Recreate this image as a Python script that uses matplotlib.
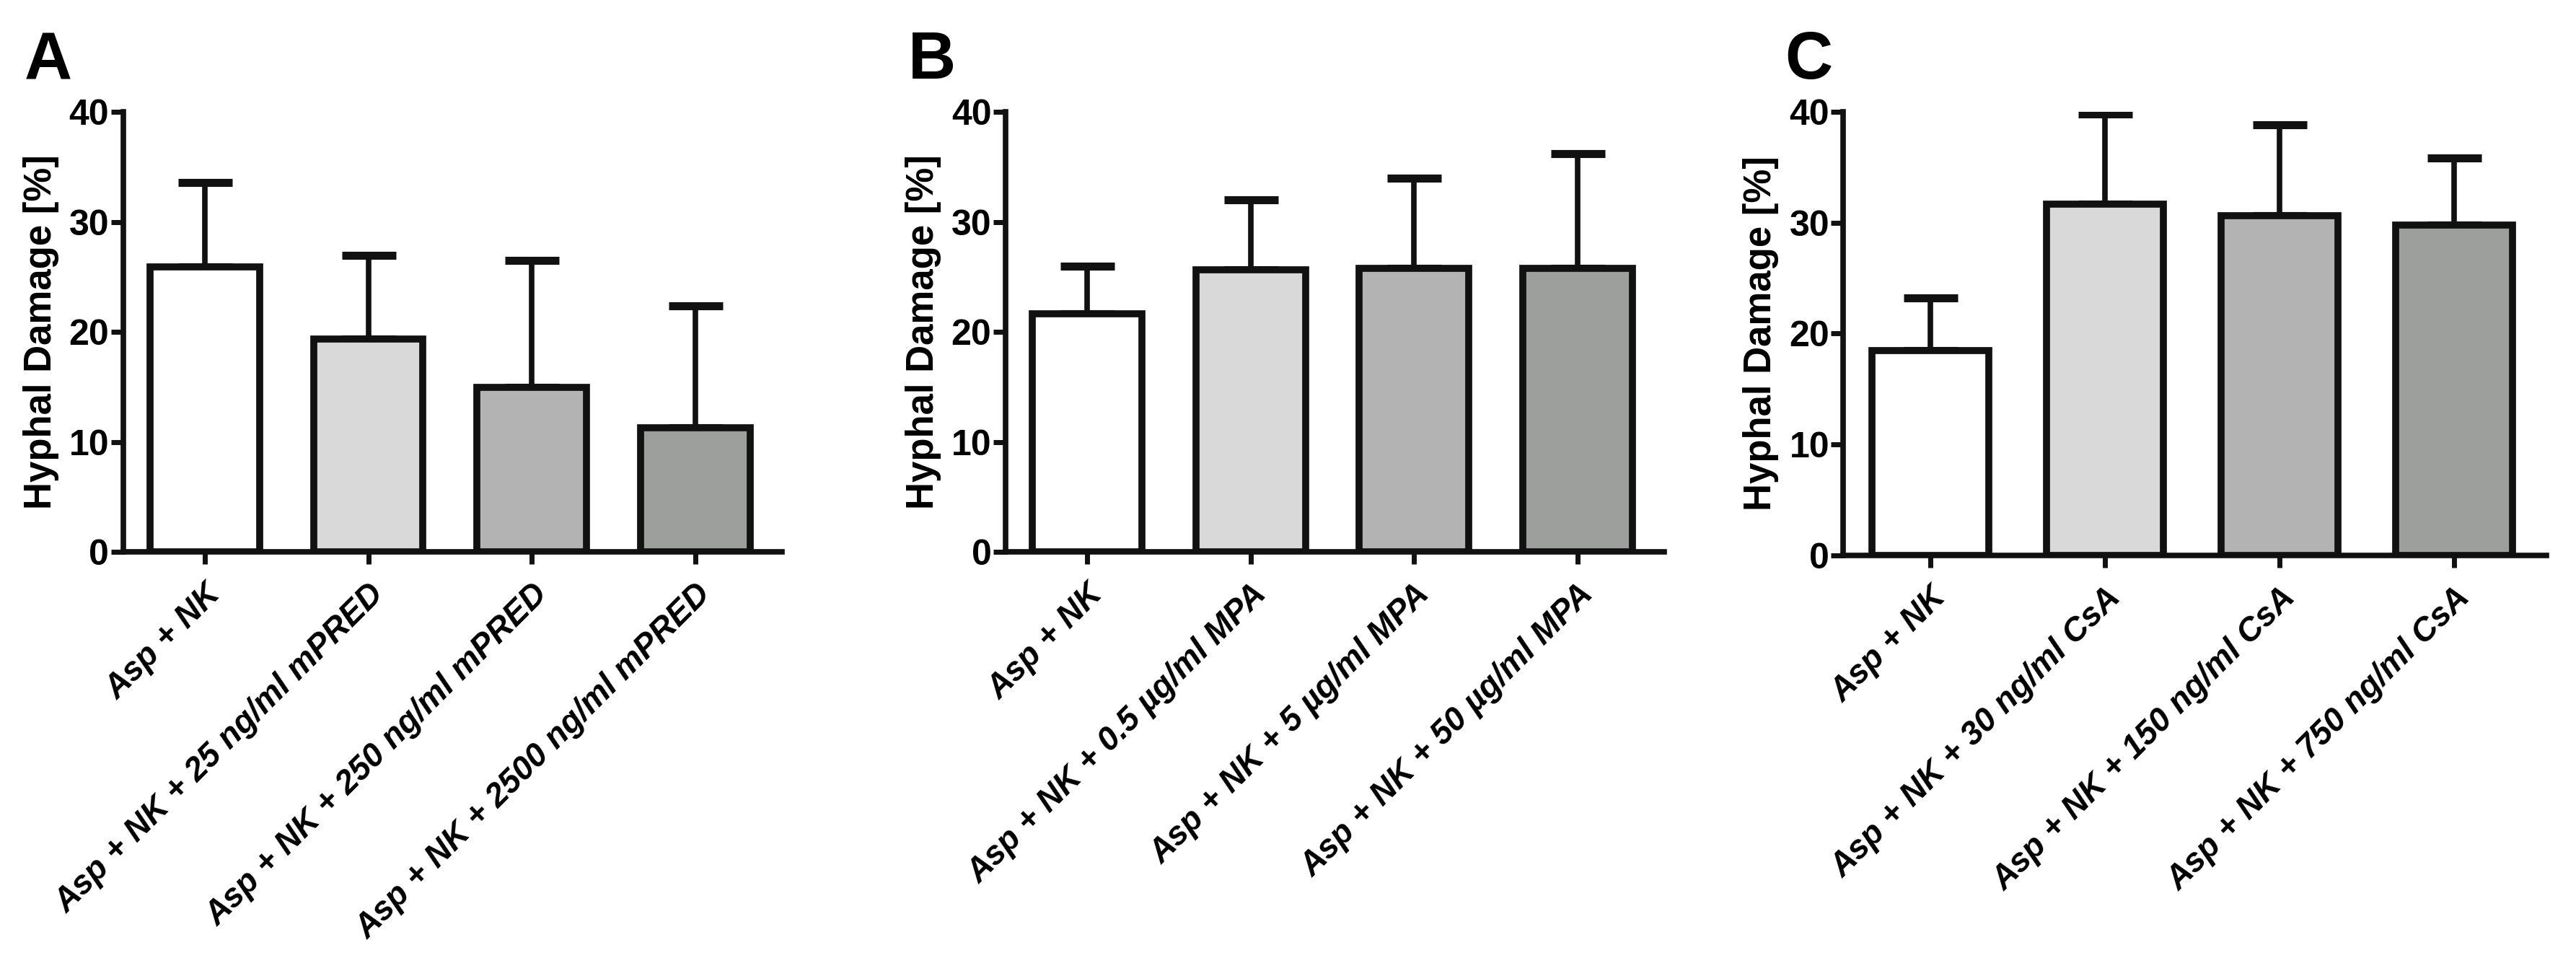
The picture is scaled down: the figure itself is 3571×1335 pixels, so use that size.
import numpy as np
import matplotlib
matplotlib.use("Agg")
import matplotlib.pyplot as plt

# Panel A - methylprednisolone
labels_a = ["Asp + NK", "Asp + NK + 25 ng/ml mPRED", "Asp + NK + 250 ng/ml mPRED",
            "Asp + NK + 2500 ng/ml mPRED"]
mean_a = [25.9, 19.4, 15.0, 11.3]
err_a = [7.7, 7.6, 11.5, 11.1]

# Panel B - mycophenolic acid
labels_b = ["Asp + NK", "Asp + NK + 0.5 \u00b5g/ml MPA", "Asp + NK + 5 \u00b5g/ml MPA",
            "Asp + NK + 50 \u00b5g/ml MPA"]
mean_b = [21.7, 25.7, 25.8, 25.8]
err_b = [4.3, 6.3, 8.2, 10.4]

# Panel C - cyclosporin A
labels_c = ["Asp + NK", "Asp + NK + 30 ng/ml CsA", "Asp + NK + 150 ng/ml CsA",
            "Asp + NK + 750 ng/ml CsA"]
mean_c = [18.5, 31.7, 30.6, 29.8]
err_c = [4.7, 8.1, 8.2, 6.0]

panel_letters = ["A", "B", "C"]
bar_colors = ["#ffffff", "#d9d9d9", "#b3b3b3", "#9d9f9d"]

plt.rcParams['font.family'] = ['Liberation Sans', 'DejaVu Sans']

fig = plt.figure(figsize=(35.71, 13.35), dpi=100)

axes_pos = [
    [0.0478, 0.4266, 0.2557, 0.457],
    [0.3903, 0.4266, 0.2557, 0.457],
    [0.7156, 0.4232, 0.2730, 0.4608],
]
letter_x = [0.0095, 0.3526, 0.6930]

panels = [(labels_a, mean_a, err_a), (labels_b, mean_b, err_b), (labels_c, mean_c, err_c)]

for i, (labels, means, errs) in enumerate(panels):
    ax = fig.add_axes(axes_pos[i])
    x = np.arange(len(means))
    # upper error bars only, drawn under the bars
    ax.errorbar(x, means, yerr=[np.zeros(len(errs)), errs], fmt='none',
                ecolor='#111111', elinewidth=5.5, capsize=27, capthick=8,
                zorder=1)
    ax.bar(x, means, width=0.67, color=bar_colors, edgecolor='#111111',
           linewidth=7, zorder=2)

    ax.set_xlim(-0.5, 3.53)
    ax.set_ylim(0, 40)
    ax.set_yticks([0, 10, 20, 30, 40])
    ax.set_xticks(x)
    ax.set_xticklabels(labels, rotation=45, ha='right', va='top',
                       rotation_mode='anchor', fontsize=33,
                       fontweight='bold', fontstyle='italic')
    for t in ax.get_yticklabels():
        t.set_fontweight('bold')
        t.set_fontsize(36)
    ax.set_ylabel("Hyphal Damage [%]", fontsize=38, fontweight='bold', labelpad=10)

    for side in ['top', 'right']:
        ax.spines[side].set_visible(False)
    for side in ['left', 'bottom']:
        ax.spines[side].set_linewidth(5.5)
        ax.spines[side].set_color('#111111')
    ax.tick_params(axis='both', direction='out', length=12, width=5,
                   color='#111111')
    ax.tick_params(axis='y', pad=2)
    ax.tick_params(axis='x', pad=14)

    fig.text(letter_x[i], 0.918, panel_letters[i], fontsize=66,
             fontweight='bold', va='baseline', ha='left')

fig.savefig("out.png", dpi=100)
